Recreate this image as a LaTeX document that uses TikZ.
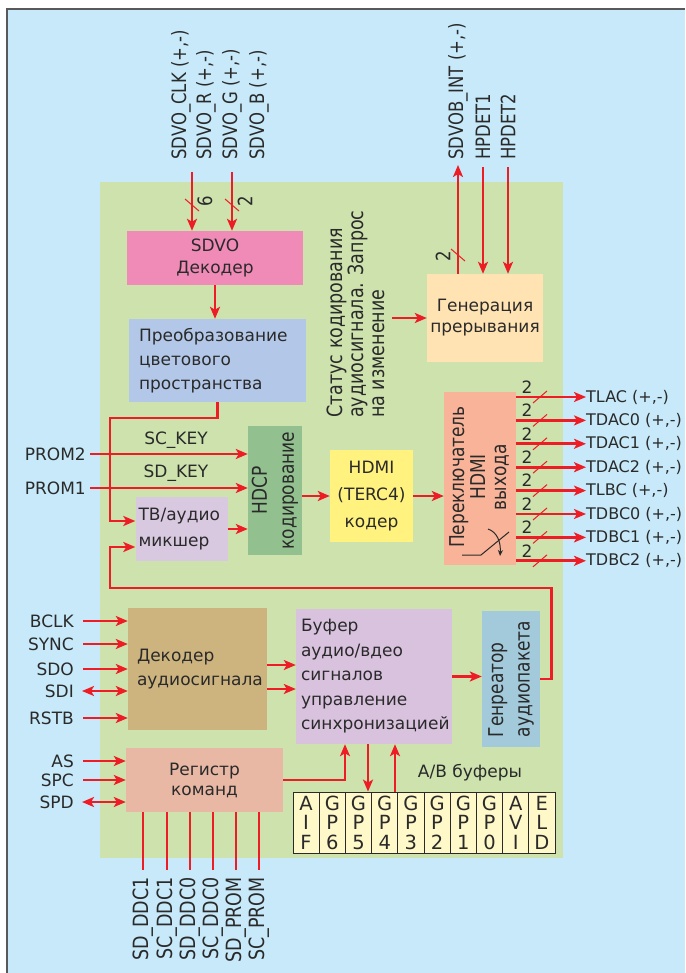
\documentclass[tikz,border=0pt]{standalone}
\usepackage{fontspec}
\setmainfont{DejaVu Sans}
\setsansfont{DejaVu Sans}
\usetikzlibrary{arrows.meta}

\definecolor{bgblue}{HTML}{C7E9F9}
\definecolor{chipgreen}{HTML}{CDE2AD}
\definecolor{sdvocol}{HTML}{F08BB8}
\definecolor{csccol}{HTML}{B3C8E8}
\definecolor{hdcpcol}{HTML}{92C08E}
\definecolor{mixcol}{HTML}{D8C9E1}
\definecolor{hdmicol}{HTML}{FFF27E}
\definecolor{swcol}{HTML}{F8B398}
\definecolor{irqcol}{HTML}{FFE3B3}
\definecolor{deccol}{HTML}{CDB47F}
\definecolor{regcol}{HTML}{E8B8A5}
\definecolor{bufcol}{HTML}{D9C2DE}
\definecolor{gencol}{HTML}{A2CADB}
\definecolor{cellcol}{HTML}{FFF9C9}
\definecolor{sigred}{HTML}{EE1D25}
\definecolor{ink}{HTML}{2A2A2A}

\newcommand{\txtfont}{\fontsize{17}{24}\selectfont}
\newcommand{\pinfont}{\fontsize{16.5}{20}\selectfont}
\newcommand{\outfont}{\fontsize{16}{18}\selectfont}
\newcommand{\busv}[1]{\draw[tick] (#1) ++(-7,-6) -- ++(14,12);}
\newcommand{\bush}[1]{\draw[tick] (#1) ++(-7,6) -- ++(14,-12);}

\begin{document}
\begin{tikzpicture}[x=1pt, y=-1pt,
    sig/.style={draw=sigred, line width=2.8pt, -{Stealth[length=12pt, width=10pt, inset=3pt]}},
    sig2/.style={sig, {Stealth[length=12pt, width=10pt, inset=3pt]}-{Stealth[length=12pt, width=10pt, inset=3pt]}},
    wire/.style={draw=sigred, line width=2.8pt},
    tick/.style={draw=sigred, line width=1pt},
    blk/.style={inner sep=0pt, text=ink, font=\txtfont},
    vtxt/.style={rotate=90, yscale=1.2, text=ink, font=\txtfont, inner sep=0pt, align=center},
    pin/.style={text=ink, font=\txtfont, inner sep=0pt},
    vpin/.style={pin, rotate=90, yscale=1.2, font=\pinfont},
    cell/.style={draw=ink, line width=0.8pt, fill=cellcol, minimum width=26.2pt, minimum height=61pt,
        inner sep=0pt, align=center, font=\fontsize{19.5}{19.5}\selectfont, text=ink}]

    % --- Frame and chip area ---
    \useasboundingbox (0,0) rectangle (685,973);
    \fill[white] (0,0) rectangle (685,973);
    \fill[bgblue] (7,9) rectangle (685,973);
    \draw[black!65, line width=1.6pt] (7,973) -- (7,9) -- (685,9);
    \fill[chipgreen] (100,182) rectangle (563,858);

    % --- Blocks ---
    \node[blk, fill=sdvocol, minimum width=176pt, minimum height=54pt, align=center,
        font=\fontsize{17}{22}\selectfont] (sdvo) at (215,258) {SDVO\\Декодер};
    \node[blk, fill=csccol, text width=157pt, inner xsep=10pt, minimum height=83pt, align=left]
        (csc) at (217.5,360.5) {Преобразование\\цветового\\пространства};
    \node[blk, fill=mixcol, text width=86pt, inner xsep=3pt, minimum height=64pt, align=left,
        font=\fontsize{17}{26}\selectfont] (mix) at (181.5,529) {ТВ/аудио\\микшер};
    \node[blk, fill=hdcpcol, minimum width=54pt, minimum height=129pt] (hdcp) at (275,490.5) {};
    \node[vtxt, font=\fontsize{17}{22.5}\selectfont] (hdcptxt) at (hdcp) {HDCP\\кодирование};
    \node[blk, fill=hdmicol, minimum width=83pt, minimum height=92pt, align=center,
        font=\fontsize{17}{27}\selectfont] (hdmi) at (371.5,496) {HDMI\\(TERC4)\\кодер};
    \node[blk, fill=swcol, minimum width=72pt, minimum height=173pt] (sw) at (480,478.5) {};
    \node[vtxt, font=\fontsize{17}{17.5}\selectfont] (swtxt) at (479,477) {Переключатель\\HDMI\\выхода};
    \node[blk, fill=irqcol, minimum width=116pt, minimum height=88pt, align=center,
        font=\fontsize{17}{21}\selectfont] (irq) at (485,318) {Генерация\\прерывания};
    \node[vtxt, anchor=west, align=left, font=\fontsize{17.5}{17.5}\selectfont] (status) at (356,418)
        {Статус кодирования\\аудиосигнала. Запрос\\на изменение};
    \node[blk, fill=deccol, text width=121pt, inner xsep=9pt, minimum height=122pt, align=left,
        font=\fontsize{17}{24}\selectfont] (dec) at (197.5,669) {Декодер\\аудиосигнала};
    \node[blk, fill=regcol, minimum width=157pt, minimum height=64pt, align=center,
        font=\fontsize{17}{20}\selectfont] (reg) at (204.5,780) {Регистр\\команд};
    \node[blk, fill=bufcol, text width=146pt, inner xsep=5pt, minimum height=135pt, align=left,
        font=\fontsize{17}{24.5}\selectfont] (buf) at (374,676.5)
        {Буфер\\аудио/вдео\\сигналов\\управление\\синхронизацией};
    \node[blk, fill=gencol, minimum width=58pt, minimum height=136pt] (gen) at (511,679) {};
    \node[vtxt, align=left, font=\fontsize{17}{22}\selectfont] (gentxt) at (gen) {Генреатор\\аудиопакета};

    % --- Switch symbol ---
    \draw[ink, line width=1pt] (462,555) -- (481,555) -- (509,532);
    \draw[ink, line width=1pt, -{Stealth[length=6pt, width=5pt]}] (488,529)
        .. controls (497,532) and (501,542) .. (500,556);

    % --- A/V buffers ---
    \foreach \a/\b/\c [count=\i from 0] in {A/I/F, G/P/6, G/P/5, G/P/4, G/P/3, G/P/2, G/P/1, G/P/0, A/V/I, E/L/D}
        \node[cell] (cell\i) at (306.1+26.2*\i, 822.5) {\a\\\b\\\c};
    \node[pin] (avlbl) at (470,773) {А/В буферы};

    % --- SDVO inputs ---
    \node[vpin, anchor=west] (clk) at (181,160) {SDVO\_CLK (+,-)};
    \node[vpin, anchor=west] (rin) at (206,160) {SDVO\_R (+,-)};
    \node[vpin, anchor=west] (gin) at (232,160) {SDVO\_G (+,-)};
    \node[vpin, anchor=west] (bin) at (259,160) {SDVO\_B (+,-)};
    \coordinate (clkbus) at (192,172);
    \coordinate (rgbbus) at (232,172);
    \draw[sig] (clkbus) -- (clkbus |- sdvo.north);
    \draw[sig] (rgbbus) -- (rgbbus |- sdvo.north);
    \busv{192,205} \busv{232,205}
    \node[vpin] (n6) at (205,201) {6};
    \node[vpin] (n2) at (245,201) {2};

    % --- Interrupt lines ---
    \node[vpin, anchor=west] (intout) at (458,160) {SDVOB\_INT (+,-)};
    \node[vpin, anchor=west] (hp1) at (483,160) {HPDET1};
    \node[vpin, anchor=west] (hp2) at (508,160) {HPDET2};
    \draw[sig] (intout.west |- irq.north) -- ([yshift=-5pt]intout.west);
    \draw[sig] ([yshift=-7pt]hp1.west) -- (hp1.west |- irq.north);
    \draw[sig] ([yshift=-7pt]hp2.west) -- (hp2.west |- irq.north);
    \busv{458,255}
    \node[vpin] (n2b) at (443,256) {2};
    \coordinate (statout) at (392,318);
    \draw[sig] (statout) -- (irq.west);

    % --- Video path ---
    \node[pin, anchor=east] (prom2) at (86,454) {PROM2};
    \node[pin, anchor=east] (prom1) at (86,488) {PROM1};
    \node[pin] (sckey) at (176,440) {SC\_KEY};
    \node[pin] (sdkey) at (176,473) {SD\_KEY};
    \draw[sig] ([xshift=4pt]prom2.east) -- (prom2.east -| hdcp.west);
    \draw[sig] ([xshift=4pt]prom1.east) -- (prom1.east -| hdcp.west);
    \draw[sig] (sdvo.south) -- (sdvo.south |- csc.north);
    \draw[sig] (csc.south) |- (110,418) |- ([yshift=8pt]mix.west);
    \draw[sig] (mix.east) -- (mix.east -| hdcp.west);
    \draw[sig] (hdcp.east |- hdmi.west) -- (hdmi.west);
    \draw[sig] (hdmi.east) -- (hdmi.east -| sw.west);
    \draw[sig] (gen.east) -- ++(11,0) |- (110,588) |- ([yshift=-18pt]mix.west);

    % --- HDMI outputs ---
    \foreach \name [count=\i from 0] in {TLAC,TDAC0,TDAC1,TDAC2,TLBC,TDBC0,TDBC1,TDBC2}{
        \node[pin, anchor=west, font=\outfont] (\name) at (586,397+23.4*\i) {\name\ (+,-)};
        \draw[sig] (sw.east |- \name.west) -- (\name.west);
        \bush{540,397+23.4*\i}
        \node[pin, font=\fontsize{17}{18}\selectfont] (w\i) at (527,387+23.4*\i) {2};
    }

    % --- Audio inputs ---
    \foreach \name/\yy in {BCLK/621, SYNC/644, SDO/669, RSTB/718}{
        \node[pin, anchor=east] (\name) at (74,\yy) {\name};
        \draw[sig] ([xshift=9pt]\name.east) -- (\name.east -| dec.west);
    }
    \node[pin, anchor=east] (SDI) at (74,691) {SDI};
    \draw[sig2] ([xshift=8pt]SDI.east) -- (SDI.east -| dec.west);
    \foreach \name/\yy in {AS/761, SPC/780}{
        \node[pin, anchor=east] (\name) at (74,\yy) {\name};
        \draw[sig] ([xshift=9pt]\name.east) -- (\name.east -| reg.west);
    }
    \node[pin, anchor=east] (SPD) at (74,802) {SPD};
    \draw[sig2] ([xshift=8pt]SPD.east) -- (SPD.east -| reg.west);

    % --- Audio path ---
    \draw[sig] ([yshift=4pt]dec.east) -- ([yshift=4pt]dec.east -| buf.west);
    \draw[sig] ([yshift=-20pt]dec.east) -- ([yshift=-20pt]dec.east -| buf.west);
    \draw[sig] (buf.east) -- (buf.east -| gen.west);
    \draw[sig] (reg.east) -| ([xshift=-29pt]buf.south);
    \draw[sig] ([xshift=-6pt]buf.south) -- ([xshift=-6pt]buf.south |- cell0.north);
    \draw[sig] ([xshift=21pt]buf.south |- cell0.north) -- ([xshift=21pt]buf.south);

    % --- DDC / PROM lines ---
    \foreach \lbl/\xx [count=\i] in {SD\_DDC1/143, SC\_DDC1/167, SD\_DDC0/190, SC\_DDC0/213, SD\_PROM/236, SC\_PROM/259}{
        \coordinate (b\i) at (\xx,870);
        \draw[wire] (b\i |- reg.south) -- (b\i);
        \node[vpin, anchor=east, font=\fontsize{17.5}{20}\selectfont] (ddc\i) at (\xx,877) {\lbl};
    }
\end{tikzpicture}
\end{document}
